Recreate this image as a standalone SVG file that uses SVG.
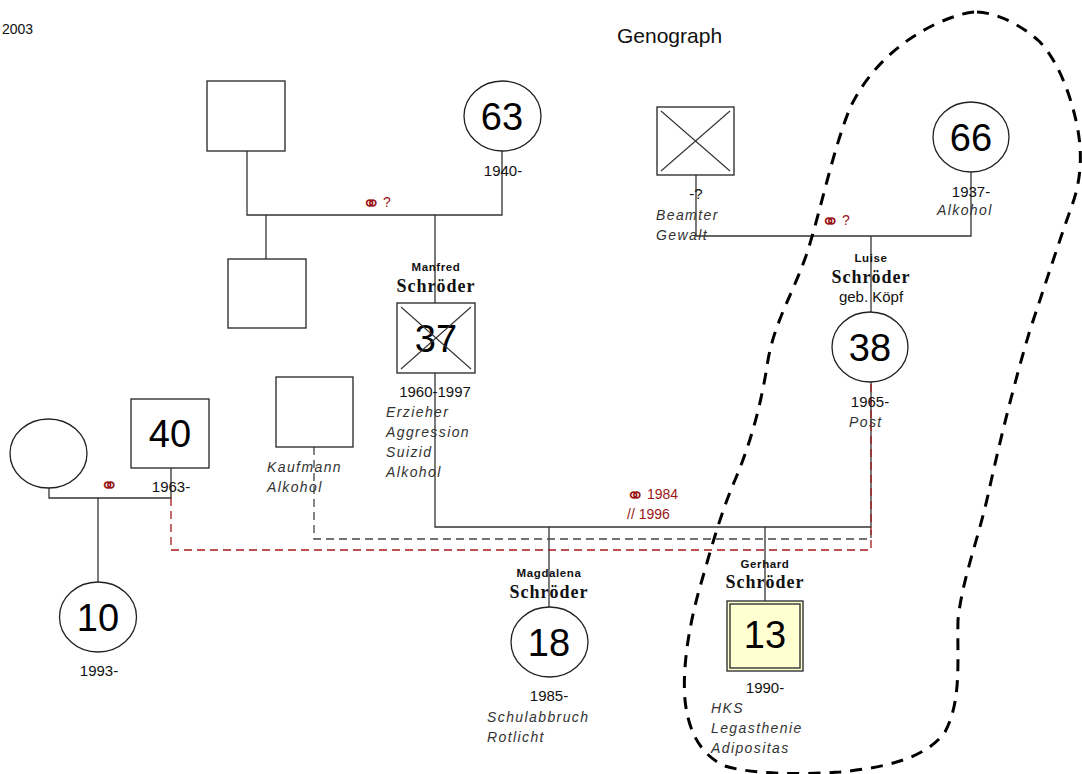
<svg xmlns="http://www.w3.org/2000/svg" width="1082" height="774" viewBox="0 0 1082 774">
<style>
.ln{fill:none;stroke:#333;stroke-width:1.3}
.nd{fill:#fff;stroke:#222;stroke-width:1.3}
.big{font-family:"Liberation Sans",Arial,sans-serif;font-size:38px;fill:#000;text-anchor:middle}
.yr{font-family:"Liberation Sans",Arial,sans-serif;font-size:15px;fill:#111;text-anchor:middle}
.it{font-family:"Liberation Sans",Arial,sans-serif;font-size:14px;font-style:italic;fill:#333;letter-spacing:1.4px}
.fn{font-family:"Liberation Sans",Arial,sans-serif;font-size:11.5px;font-weight:bold;fill:#111;text-anchor:middle;letter-spacing:0.6px}
.sn{font-family:"Liberation Serif","Times New Roman",serif;font-size:18px;font-weight:bold;fill:#111;text-anchor:middle;letter-spacing:1px}
.rd{font-family:"Liberation Sans","DejaVu Sans",sans-serif;font-size:14px;fill:#9b1515}
.ring{font-family:"DejaVu Sans",sans-serif;font-size:22px;fill:#9b1515}
.x{stroke:#333;stroke-width:1.1}
</style>
<rect width="1082" height="774" fill="#fff"/>
<text x="2" y="34" font-family="Liberation Sans,Arial,sans-serif" font-size="14" fill="#111">2003</text>
<text x="617" y="43" font-family="Liberation Sans,Arial,sans-serif" font-size="21" fill="#111">Genograph</text>

<g id="connectors">
  <polyline class="ln" points="247,151 247,215 502,215 502,151"/>
  <line class="ln" x1="266" y1="215" x2="266" y2="259"/>
  <line class="ln" x1="435" y1="215" x2="435" y2="303"/>
  <text class="ring" x="362" y="211">⚭</text><text class="rd" x="383" y="207">?</text>
  <polyline class="ln" points="696,175 696,236 971,236 971,172"/>
  <line class="ln" x1="871" y1="236" x2="871" y2="312"/>
  <text class="ring" x="821" y="229">⚭</text><text class="rd" x="842" y="225">?</text>
  <polyline class="ln" points="435,373 435,527 871,527 871,382"/>
  <line class="ln" x1="549" y1="527" x2="549" y2="607"/>
  <line class="ln" x1="765" y1="527" x2="765" y2="601"/>
  <text class="ring" x="626" y="503">⚭</text><text class="rd" x="647" y="499">1984</text>
  <text class="rd" x="627" y="519">// 1996</text>
  <polyline class="ln" points="49,488 49,498 171,498 171,468"/>
  <line class="ln" x1="98" y1="498" x2="98" y2="582"/>
  <text class="ring" x="100" y="493">⚭</text>
  <polyline fill="none" stroke="#444" stroke-width="1.3" stroke-dasharray="8,5" points="314,447 314,539 871,539 871,527"/>
  <polyline fill="none" stroke="#a81818" stroke-width="1.3" stroke-dasharray="8,5" points="171,498 171,550 871,550 871,382"/>
</g>

<g id="boundary">
  <path fill="none" stroke="#000" stroke-width="3" stroke-dasharray="12,9" d="M977,12 C1000,13 1025,28 1040,42 C1057,60 1070,92 1077,125 C1083,155 1081,182 1071,208 C1058,245 1045,285 1030,330 C1015,380 1000,440 988,495 C978,540 962,580 958,620 C957,660 962,700 945,732 C925,760 880,768 840,772 C800,775 750,774 725,766 C700,755 688,730 685,700 C682,665 690,620 702,580 C712,545 722,510 735,480 C752,440 762,400 768,360 C775,320 795,290 808,250 C822,205 833,150 850,108 C868,70 900,40 940,22 C955,16 966,12 977,12 Z"/>
</g>

<g id="n-gf1"><rect class="nd" x="207" y="81" width="78" height="70"/></g>
<g id="n-gm1"><ellipse class="nd" cx="502.5" cy="116" rx="38.5" ry="35"/><text class="big" x="502" y="130">63</text><text class="yr" x="503" y="176">1940-</text></g>
<g id="n-sib"><rect class="nd" x="228" y="259" width="78" height="69"/></g>

<g id="n-manfred">
  <text class="fn" x="436" y="271">Manfred</text>
  <text class="sn" x="436" y="292">Schröder</text>
  <rect class="nd" x="397" y="303" width="78" height="70"/>
  <text class="big" x="436" y="352">37</text>
  <line class="x" x1="401" y1="307" x2="471" y2="369"/><line class="x" x1="471" y1="307" x2="401" y2="369"/>
  <text class="yr" x="435" y="397">1960-1997</text>
  <text class="it" x="386" y="417">Erzieher</text>
  <text class="it" x="386" y="437">Aggression</text>
  <text class="it" x="386" y="457">Suizid</text>
  <text class="it" x="386" y="477">Alkohol</text>
</g>

<g id="n-gf2">
  <rect class="nd" x="657" y="107" width="77" height="68"/>
  <line class="x" x1="661" y1="111" x2="730" y2="171"/><line class="x" x1="730" y1="111" x2="661" y2="171"/>
  <text class="yr" x="696" y="199">-?</text>
  <text class="it" x="656" y="220">Beamter</text>
  <text class="it" x="656" y="240">Gewalt</text>
</g>
<g id="n-gm2"><ellipse class="nd" cx="971" cy="137" rx="38" ry="35"/><text class="big" x="971" y="151">66</text><text class="yr" x="971" y="197">1937-</text><text class="it" x="937" y="215">Alkohol</text></g>

<g id="n-luise">
  <text class="fn" x="871" y="262">Luise</text>
  <text class="sn" x="871" y="283">Schröder</text>
  <text class="yr" x="871" y="302">geb. Köpf</text>
  <ellipse class="nd" cx="870" cy="347" rx="38" ry="35"/>
  <text class="big" x="870" y="361">38</text>
  <text class="yr" x="870" y="407">1965-</text>
  <text class="it" x="849" y="427">Post</text>
</g>

<g id="n-kaufmann">
  <rect class="nd" x="276" y="377" width="77" height="70"/>
  <text class="it" x="267" y="472">Kaufmann</text>
  <text class="it" x="267" y="492">Alkohol</text>
</g>

<g id="n-leftw"><ellipse class="nd" cx="48.5" cy="453.5" rx="38.5" ry="34.5"/></g>
<g id="n-40"><rect class="nd" x="131" y="399" width="78" height="69"/><text class="big" x="170" y="447">40</text><text class="yr" x="171" y="492">1963-</text></g>
<g id="n-10"><ellipse class="nd" cx="98" cy="617" rx="38.5" ry="35"/><text class="big" x="98" y="631">10</text><text class="yr" x="99" y="676">1993-</text></g>

<g id="n-magdalena">
  <text class="fn" x="549" y="577">Magdalena</text>
  <text class="sn" x="549" y="598">Schröder</text>
  <ellipse class="nd" cx="549.5" cy="642" rx="38.5" ry="35"/>
  <text class="big" x="549" y="656">18</text>
  <text class="yr" x="549" y="701">1985-</text>
  <text class="it" x="487" y="722">Schulabbruch</text>
  <text class="it" x="487" y="742">Rotlicht</text>
</g>

<g id="n-gerhard">
  <text class="fn" x="765" y="568">Gerhard</text>
  <text class="sn" x="765" y="588">Schröder</text>
  <rect x="727" y="601" width="76" height="70" fill="#ffffd2" stroke="#333" stroke-width="1.4"/>
  <rect x="730" y="604" width="70" height="64" fill="none" stroke="#333" stroke-width="1.4"/>
  <text class="big" x="765" y="648">13</text>
  <text class="yr" x="765" y="693">1990-</text>
  <text class="it" x="711" y="713">HKS</text>
  <text class="it" x="711" y="733">Legasthenie</text>
  <text class="it" x="711" y="753">Adipositas</text>
</g>
</svg>
